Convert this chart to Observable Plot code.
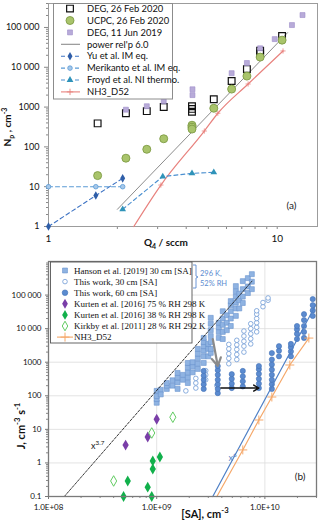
<!DOCTYPE html>
<html><head><meta charset="utf-8">
<script src="https://cdn.jsdelivr.net/npm/d3@7"></script>
<script src="https://cdn.jsdelivr.net/npm/@observablehq/plot@0.6"></script>
<style>
html,body{margin:0;padding:0;background:#fff;}
#wrap{width:320px;height:524px;position:relative;overflow:hidden;background:#fff;}
#wrap svg{display:block;}
</style></head><body><div id="wrap"></div>
<script>
// ================= Panel (a) data =================
const q4Deg2020 = [1.64, 2.18, 2.69, 3.19, 4.24, 4.24, 4.24, 5.28, 6.32, 7.37, 8.42, 8.42, 10.5];
const npDeg2020 = [390, 700, 790, 1000, 1050, 900, 760, 1580, 4500, 9000, 26000, 22000, 61000];
const q4Ucpc = [1.64, 2.18, 2.69, 3.19, 4.24, 4.24, 4.24, 5.28, 6.32, 7.37, 8.42, 10.5];
const npUcpc = [19, 52, 87, 160, 350, 310, 280, 935, 2830, 6000, 18000, 48000];
const q4Deg2019 = [2.18, 2.69, 3.19, 4.26, 4.26, 6.32, 7.37, 8.42, 9.75, 11.6, 12.9];
const npDeg2019 = [860, 1050, 1400, 2800, 2000, 7100, 12800, 30000, 51000, 115000, 205000];
const q4Power = [2.0, 11.1];
const npPower = [2.7, 74000];
const q4Yu = [1, 1.61, 2.11];
const npYu = [1, 6, 16.2];
const q4Merikanto = [1, 1.61, 2.11];
const npMerikanto = [10, 10, 10];
const q4Froyd = [2.11, 3.16, 4.24, 5.28];
const npFroyd = [2.7, 18, 21.6, 23];
const q4Nh3 = [2.36, 3.1, 4.8, 5.5, 7.46, 10.6];
const npNh3 = [1, 11, 250, 700, 3800, 25700];

const topXTicks = [1, 10];
const topXLabels = ["1", "10"];
const topXMinor = [2, 3, 4, 5, 6, 7, 8, 9];
const topYTicks = [1, 10, 100, 1000, 10000, 100000];
const topYLabels = ["1", "10", "100", "1000", "10 000", "100 000"];
const topLegendNames = ["DEG, 26 Feb 2020", "UCPC, 26 Feb 2020", "DEG, 11 Jun 2019", "power rel'p 6.0",
  "Yu et al. IM eq.", "Merikanto et al. IM eq.", "Froyd et al. NI thermo.", "NH3_D52"];

// ================= Panel (b) data =================
const saHanson = [
  1.0e9,1.0e9,1.0e9,1.0e9, 1.09e9,1.09e9, 1.24e9,1.24e9,1.24e9, 1.4e9,1.4e9,
  1.56e9,1.56e9,1.56e9,1.56e9, 1.75e9,1.75e9, 1.94e9,1.94e9,1.94e9,1.94e9,1.94e9,
  2.15e9,2.15e9,2.15e9, 2.4e9,2.4e9,2.4e9,2.4e9,2.4e9, 2.72e9,2.72e9,2.72e9,2.72e9,2.72e9,2.72e9,
  3.0e9,3.0e9,3.0e9, 3.16e9,3.16e9,3.16e9,3.16e9,3.16e9,3.16e9,3.16e9,
  3.75e9,3.75e9,3.75e9,3.75e9, 4.08e9,4.08e9,4.08e9,4.08e9,4.08e9, 4.45e9,4.45e9,4.45e9,
  4.84e9,4.84e9,4.84e9,4.84e9,4.84e9, 5.39e9,5.39e9,5.39e9,5.39e9,5.39e9,5.39e9,
  5.8e9,5.8e9,5.8e9, 6.25e9,6.25e9,6.25e9,6.25e9, 6.96e9,6.96e9,6.96e9, 7.58e9,7.58e9,7.58e9];
const jHanson = [
  62,80,98,140, 150,110, 160,200,240, 200,290,
  160,250,350,480, 300,420, 240,350,500,700,950,
  500,750,1000, 630,900,1300,1800,2500, 950,1500,2200,3000,4000,5300,
  1500,2500,3500, 1900,2500,4000,6000,9000,14000,21000,
  5300,8000,11000,15000, 4900,8000,13000,20000,33000, 9000,15000,25000,
  12000,20000,33000,50000,66000, 24000,40000,60000,90000,130000,185000,
  40000,70000,110000, 58000,90000,150000,260000, 115000,180000,320000, 150000,250000,420000];
const saWork30 = [1.86e9, 2.3e9,2.3e9,2.3e9, 2.84e9,2.84e9,2.84e9, 3.6e9,
  4.64e9,4.64e9,4.64e9,4.64e9,4.64e9, 5.5e9,5.5e9,5.5e9,5.5e9,5.5e9,
  6.4e9,6.4e9,6.4e9,6.4e9,6.4e9, 7.4e9,7.4e9,7.4e9,7.4e9,7.4e9,
  8.4e9,8.4e9,8.4e9,8.4e9,8.4e9,8.4e9, 9.6e9,9.6e9, 1.07e10,1.07e10];
const jWork30 = [140, 170,240,330, 300,420,560, 200,
  900,1300,1800,2500,3400, 1200,1700,2400,3300,4500,
  2000,3000,4200,6000,8500, 3500,5000,7000,10000,14000,
  8000,11000,15000,20000,27000,34000, 45000,60000, 70000,82000];
const saWork60 = [2.72e9,2.72e9,2.72e9,2.72e9,2.72e9,
  3.67e9,3.67e9,3.67e9,3.67e9,3.67e9,3.67e9,3.67e9,
  4.94e9,4.94e9,4.94e9,4.94e9, 6.25e9,6.25e9,6.25e9,6.25e9,
  8.8e9,8.8e9,8.8e9,8.8e9,8.8e9,8.8e9,
  1.16e10,1.16e10,1.16e10,1.16e10,1.16e10,1.16e10,1.16e10,1.16e10,
  1.35e10,1.35e10,1.35e10, 1.74e10,1.74e10,1.74e10,1.74e10,
  1.98e10,1.98e10,1.98e10,1.98e10, 2.3e10,2.3e10,2.3e10,2.3e10,2.3e10,
  2.77e10,2.77e10,2.77e10,2.77e10];
const jWork60 = [160,220,300,400,550,
  120,160,220,300,420,580,770,
  170,230,320,440, 190,270,380,550,
  170,230,320,450,620,770,
  160,220,300,420,600,850,1200,1870,
  1500,2200,3000, 1500,2100,2800,3500,
  4900,7000,9500,12000, 5300,8000,12000,18000,27000,
  24000,35000,50000,76000];
const saKurten75 = [5.16e8, 8.26e8, 1.0e9];
const jKurten75 = [3.4, 5.9, 20];
const saKurten38 = [4.94e8, 5.4e8, 8.26e8, 9.0e8, 9.2e8, 9.2e8, 1.07e9];
const jKurten38 = [0.1, 0.29, 0.19, 0.1, 0.66, 1.15, 1.5];
const saKirkby = [4.0e8, 9.0e8, 1.41e9];
const jKirkby = [0.29, 7.8, 23];
const saNh3 = [3.6e9, 6.25e9, 8.8e9, 1.16e10, 1.70e10, 2.55e10];
const jNh3 = [0.1, 2.44, 19, 92, 826, 5240];
const saPow37 = [1.4e8, 7.6e9];
const jPow37 = [0.1, 2.6e5];
const saPow6 = [3.3e9, 3.0e10];
const jPow6 = [0.1, 5.6e4];
const greyArrow = {sa1: 3.3e9, j1: 4900, sa2: 3.67e9, j2: 770};
const blackArrow = {sa1: 3.92e9, j1: 170, sa2: 8.8e9, j2: 170};

const botXTicks = [1e8, 1e9, 1e10];
const botXLabels = ["1.0E+08", "1.0E+09", "1.0E+10"];
const botYTicks = [0.1, 1, 10, 100, 1000, 10000, 100000];
const botYLabels = ["0.1", "1", "10", "100", "1000", "10 000", "100 000"];
const botLegendNames = ["Hanson et al. [2019] 30 cm [SA]", "This work, 30 cm [SA]", "This work, 60 cm [SA]",
  "Kurten et al. [2016] 75 % RH 298 K", "Kurten et al. [2016] 38 % RH 298 K",
  "Kirkby et al. [2011] 28 % RH 292 K", "NH3_D52"];
const annotationLines = ["296 K,", "52% RH"];

// ================= helpers =================
const pts = (xs, ys) => xs.map((x, i) => ({x, y: ys[i]}));
const minorOf = (lo, hi) => { const out = []; for (let p = lo; p < hi; p *= 10) for (let k = 2; k <= 9; k++) if (p * k <= hi) out.push(p * k); return out; };

// ================= Panel (a) =================
const colYu = "#2f5ea8", colMer = "#5b9bd5", colFroyd = "#2f93b9", colRed = "#e8827e";
const plotA = Plot.plot({
  width: 320, height: 250,
  marginLeft: 48, marginRight: 3, marginTop: 3, marginBottom: 24,
  style: {fontFamily: "Lato, sans-serif", fontSize: "9px", background: "white", color: "#111"},
  x: {type: "log", domain: [1, 15]},
  y: {type: "log", domain: [1, 4e5]},
  marks: [
    Plot.axisY(topYTicks, {tickSize: 4, tickPadding: 5, stroke: "#888", fill: "#111", fontSize: 9, label: null,
      tickFormat: d => topYLabels[topYTicks.indexOf(d)]}),
    Plot.axisY(minorOf(1, 4e5), {tickSize: 2, stroke: "#888", label: null, tickFormat: () => ""}),
    Plot.axisX(topXTicks, {tickSize: 3, tickPadding: 5, stroke: "#888", fill: "#111", fontSize: 10, label: null,
      tickFormat: d => topXLabels[topXTicks.indexOf(d)]}),
    Plot.axisX(topXMinor, {tickSize: 3, stroke: "#888", label: null, tickFormat: () => ""}),
    Plot.frame({stroke: "#9c9c9c"}),
    Plot.line(pts(q4Power, npPower), {x: "x", y: "y", stroke: "#8c8c8c", strokeWidth: 1}),
    Plot.line(pts(q4Nh3, npNh3), {x: "x", y: "y", stroke: colRed, strokeWidth: 1.2, curve: "monotone-x"}),
    Plot.dot(pts(q4Nh3, npNh3).slice(1), {x: "x", y: "y", symbol: "plus", r: 1.8, stroke: colRed, strokeWidth: 0.8}),
    Plot.line(pts(q4Yu, npYu), {x: "x", y: "y", stroke: "#3f74c4", strokeWidth: 1.1, strokeDasharray: "4,3"}),
    Plot.dot(pts(q4Yu, npYu), {x: "x", y: "y", symbol: "diamond", r: 2.6, fill: colYu}),
    Plot.line(pts(q4Merikanto, npMerikanto), {x: "x", y: "y", stroke: colMer, strokeWidth: 1.1, strokeDasharray: "4,3"}),
    Plot.dot(pts(q4Merikanto, npMerikanto), {x: "x", y: "y", r: 2.3, fill: "#a6c8ea", stroke: colMer, strokeWidth: 0.8}),
    Plot.line(pts(q4Froyd, npFroyd), {x: "x", y: "y", stroke: "#4a8fd0", strokeWidth: 1.1, strokeDasharray: "4,3"}),
    Plot.dot(pts(q4Froyd, npFroyd), {x: "x", y: "y", symbol: "triangle", r: 2.5, fill: colFroyd}),
    Plot.dot(pts(q4Deg2020, npDeg2020), {x: "x", y: "y", symbol: "square", r: 3.8, fill: "none", stroke: "#111", strokeWidth: 1.2}),
    Plot.dot(pts(q4Ucpc, npUcpc), {x: "x", y: "y", r: 4, fill: "#a9c46b", stroke: "#7f9c45", strokeWidth: 0.9}),
    Plot.dot(pts(q4Deg2019, npDeg2019), {x: "x", y: "y", symbol: "square", r: 2.8, fill: "#b8abd9", stroke: "#9d8dc9", strokeWidth: 0.6}),
    Plot.text(["(a)"], {frameAnchor: "bottom-right", dx: -21, dy: -21, lineAnchor: "middle", textAnchor: "end", fontSize: 10, fill: "#222"})
  ]
});

// ================= Panel (b) =================
const colBlue = "#4f80c6", colOrange = "#f5a86a";
const plotB = Plot.plot({
  width: 320, height: 274,
  marginLeft: 48, marginRight: 4, marginTop: 11, marginBottom: 28,
  style: {fontFamily: "Lato, sans-serif", fontSize: "8px", background: "white", color: "#111"},
  x: {type: "log", domain: [1e8, 3e10]},
  y: {type: "log", domain: [0.1, 1e6]},
  marks: [
    Plot.gridY(botYTicks, {stroke: "#dcdcdc", strokeOpacity: 1, strokeWidth: 0.8}),
    Plot.gridX([1e9, 1e10], {stroke: "#dcdcdc", strokeOpacity: 1, strokeWidth: 0.8}),
    Plot.axisY(botYTicks, {tickSize: 3, tickPadding: 4, stroke: "#777", fill: "#111", fontSize: 8, label: null,
      tickFormat: d => botYLabels[botYTicks.indexOf(d)]}),
    Plot.axisY(minorOf(0.1, 1e6), {tickSize: 2, stroke: "#888", label: null, tickFormat: () => ""}),
    Plot.axisX(botXTicks, {tickSize: 3, tickPadding: 5, stroke: "#777", fill: "#111", fontSize: 8, label: null,
      tickFormat: d => botXLabels[botXTicks.indexOf(d)]}),
    Plot.axisX(minorOf(1e8, 3e10), {tickSize: 2, stroke: "#888", label: null, tickFormat: () => ""}),
    Plot.dot(pts(saHanson, jHanson), {x: "x", y: "y", symbol: "square", r: 2.8, fill: "#8fb3e2", stroke: "#6a94cf", strokeWidth: 0.6}),
    Plot.dot(pts(saWork30, jWork30), {x: "x", y: "y", r: 2.3, fill: "white", stroke: "#6f9ad6", strokeWidth: 0.8}),
    Plot.dot(pts(saWork60, jWork60), {x: "x", y: "y", r: 2.6, fill: "#5b8bd0", stroke: "#4170b5", strokeWidth: 0.6}),
    Plot.dot(pts(saKurten75, jKurten75), {x: "x", y: "y", symbol: "diamond", r: 3.3, fill: "#7a3ea8"}),
    Plot.dot(pts(saKurten38, jKurten38), {x: "x", y: "y", symbol: "diamond", r: 3.3, fill: "#11b04b"}),
    Plot.dot(pts(saKirkby, jKirkby), {x: "x", y: "y", symbol: "diamond", r: 3.2, fill: "white", stroke: "#62cc62", strokeWidth: 1}),
    Plot.line(pts(saPow37, jPow37), {x: "x", y: "y", stroke: "#222", strokeWidth: 0.9, strokeDasharray: "2.5,1.5"}),
    Plot.line(pts(saPow6, jPow6), {x: "x", y: "y", stroke: colBlue, strokeWidth: 1.2}),
    Plot.line(pts(saNh3, jNh3), {x: "x", y: "y", stroke: colOrange, strokeWidth: 1.2}),
    Plot.dot(pts(saNh3, jNh3).slice(1), {x: "x", y: "y", symbol: "plus", r: 3, stroke: colOrange, strokeWidth: 1}),
    Plot.arrow([greyArrow], {x1: "sa1", y1: "j1", x2: "sa2", y2: "j2", stroke: "#8a8a8a", strokeWidth: 2.2, headLength: 7}),
    Plot.arrow([blackArrow], {x1: "sa1", y1: "j1", x2: "sa2", y2: "j2", stroke: "#111", strokeWidth: 1.5, headLength: 6}),
    Plot.frame({stroke: "#7a7a7a", strokeWidth: 1.3}),
    Plot.text(["(b)"], {frameAnchor: "bottom-right", dx: -11, dy: -20, lineAnchor: "middle", textAnchor: "end", fontSize: 10, fill: "#222"})
  ]
});

const wrap = document.getElementById("wrap");
wrap.append(plotA);
wrap.append(plotB);

// ---------- rich text helper ----------
function richText(g, parts, attrs) {
  const t = g.append("text").attr("text-anchor", "start");
  Object.entries(attrs).forEach(([k, v]) => t.attr(k, v));
  let shift = 0;
  const fs = attrs["font-size"] || 10;
  parts.forEach(p => {
    const ts = t.append("tspan").text(p.t);
    const target = p.sup ? -0.45 : p.sub ? 0.3 : 0;
    if (target !== shift) { ts.attr("dy", ((target - shift) * fs).toFixed(2)); shift = target; }
    if (p.sup || p.sub) ts.attr("font-size", fs * 0.7);
  });
  return t;
}

// ---------- Panel (a) extras ----------
const sa = d3.select(plotA);
richText(sa, [{t: "N"}, {t: "p", sub: true}, {t: " , cm"}, {t: "-3", sup: true}],
  {"transform": "translate(11,127) rotate(-90)", "text-anchor": "middle", "font-size": 10, "font-weight": "bold", "font-family": "Lato, sans-serif", "fill": "#111"});
richText(sa, [{t: "Q"}, {t: "4", sub: true}, {t: " / sccm"}],
  {"x": 166, "y": 246, "text-anchor": "middle", "font-size": 10, "font-weight": "bold", "font-family": "Lato, sans-serif", "fill": "#111"});

const topLegendStyle = [
  {sym: d3.symbolSquare, r: 3.8, fill: "none", stroke: "#111", sw: 1.2},
  {sym: d3.symbolCircle, r: 4, fill: "#a9c46b", stroke: "#7f9c45", sw: 0.9},
  {sym: d3.symbolSquare, r: 2.8, fill: "#b8abd9", stroke: "#9d8dc9", sw: 0.6},
  {line: "#8c8c8c"},
  {line: "#3f74c4", dash: "4,3", sym: d3.symbolDiamond, r: 2.6, fill: colYu},
  {line: colMer, dash: "4,3", sym: d3.symbolCircle, r: 2.3, fill: "#a6c8ea", stroke: colMer, sw: 0.8},
  {line: "#4a8fd0", dash: "4,3", sym: d3.symbolTriangle, r: 2.5, fill: colFroyd},
  {line: colRed, sym: d3.symbolPlus, r: 2.2, fill: "none", stroke: colRed, sw: 0.9}
];
function drawLegend(svg, names, styles, box, y0, dy, symX, lx1, lx2, textX, font, fsize) {
  const g = svg.append("g").attr("text-anchor", "start");
  g.append("rect").attr("x", box[0]).attr("y", box[1]).attr("width", box[2]).attr("height", box[3])
    .attr("fill", "white").attr("stroke", box[4]).attr("stroke-width", box[5]);
  names.forEach((name, i) => {
    const y = y0 + i * dy, s = styles[i];
    if (s.line) g.append("line").attr("x1", lx1).attr("x2", lx2).attr("y1", y).attr("y2", y)
      .attr("stroke", s.line).attr("stroke-width", 1.1).attr("stroke-dasharray", s.dash || null);
    if (s.sym) g.append("path").attr("transform", `translate(${symX},${y})`)
      .attr("d", d3.symbol().type(s.sym).size(s.r * s.r * Math.PI)())
      .attr("fill", s.fill || "none").attr("stroke", s.stroke || "none").attr("stroke-width", s.sw || 0);
    g.append("text").attr("x", textX).attr("y", y).attr("dy", "0.35em").attr("text-anchor", "start")
      .attr("font-family", font).attr("font-size", fsize).attr("fill", "#111").text(name);
  });
}
drawLegend(sa, topLegendNames, topLegendStyle, [53.5, 3.5, 119, 95.5, "#8c8c8c", 1], 8.6, 11.9, 70, 61, 80, 87, "Lato, sans-serif", 9.4);

// ---------- Panel (b) extras ----------
const sb = d3.select(plotB);
const xB = plotB.scale("x"), yB = plotB.scale("y");
richText(sb, [{t: "J, cm"}, {t: "-3", sup: true}, {t: " s"}, {t: "-1", sup: true}],
  {"transform": "translate(25,176) rotate(-90)", "text-anchor": "middle", "font-size": 11, "font-weight": "bold", "font-family": "Lato, sans-serif", "fill": "#111"});
richText(sb, [{t: "[SA], cm"}, {t: "-3", sup: true}],
  {"x": 205, "y": 268, "text-anchor": "middle", "font-size": 11, "font-weight": "bold", "font-family": "Lato, sans-serif", "fill": "#111"});
richText(sb, [{t: "x"}, {t: "3.7", sup: true}],
  {"x": xB.apply(2.5e8).toFixed(1), "y": yB.apply(2.5).toFixed(1), "font-size": 9, "font-family": "Lato, sans-serif", "fill": "#111"});
richText(sb, [{t: "x"}, {t: "6", sup: true}],
  {"x": xB.apply(4.65e9).toFixed(1), "y": yB.apply(1.1).toFixed(1), "font-size": 9, "font-family": "Lato, sans-serif", "fill": colBlue});

const botLegendStyle = [
  {sym: d3.symbolSquare, r: 2.8, fill: "#8fb3e2", stroke: "#6a94cf", sw: 0.6},
  {sym: d3.symbolCircle, r: 2.3, fill: "white", stroke: "#6f9ad6", sw: 0.8},
  {sym: d3.symbolCircle, r: 2.8, fill: "#5b8bd0", stroke: "#4170b5", sw: 0.6},
  {sym: d3.symbolDiamond, r: 3, fill: "#7a3ea8"},
  {sym: d3.symbolDiamond, r: 3, fill: "#11b04b"},
  {sym: d3.symbolDiamond, r: 2.9, fill: "white", stroke: "#62cc62", sw: 1},
  {line: colOrange, sym: d3.symbolPlus, r: 3, fill: "none", stroke: colOrange, sw: 1}
];
drawLegend(sb, botLegendNames, botLegendStyle, [50.5, 12, 141.5, 81, "#555", 0.9], 20.5, 11.1, 65, 57, 73, 74, "'Liberation Serif', 'Times New Roman', serif", 9.0);

// bracket + annotation
sb.append("path").attr("d", "M193,15 L196,15 L196,26 L198,27 L196,28 L196,38 L193,38")
  .attr("fill", "none").attr("stroke", "#5b8bd0").attr("stroke-width", 0.9);
annotationLines.forEach((t, i) => sb.append("text").attr("x", 200).attr("y", 23 + i * 10).attr("dy", "0.35em")
  .attr("text-anchor", "start")
  .attr("font-family", "Lato, sans-serif").attr("font-size", 7.5).attr("fill", "#5b8bd0").text(t));
</script></body></html>
